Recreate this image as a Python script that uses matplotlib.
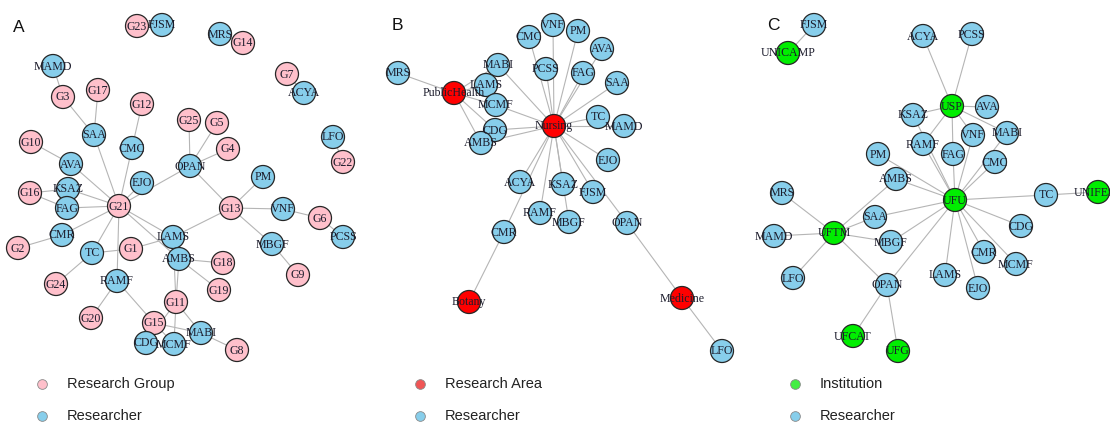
import matplotlib
matplotlib.use("Agg")
import matplotlib.pyplot as plt
from matplotlib.patches import Circle

# ---------------- Network A: research groups x researchers ----------------
groups_a = ["G23", "G14", "G7", "G3", "G17", "G12", "G25", "G5", "G4", "G10",
            "G22", "G16", "G21", "G13", "G6", "G2", "G1", "G18", "G9", "G24",
            "G19", "G11", "G20", "G15", "G8"]
layout_a = {
    "G23": (137, 26), "G14": (243, 43), "G7": (287, 74), "G3": (63, 97),
    "G17": (98, 90), "G12": (142, 104), "G25": (189, 120), "G5": (217, 123),
    "G4": (228, 149), "G10": (31, 142), "G22": (343, 162), "G16": (30, 193),
    "G21": (119, 206), "G13": (231, 208), "G6": (320, 218), "G2": (18, 248),
    "G1": (131, 249), "G18": (223, 263), "G9": (298, 275), "G24": (56, 284),
    "G19": (219, 290), "G11": (176, 302), "G20": (91, 318), "G15": (154, 323),
    "G8": (237, 350),
    "FJSM": (162, 25), "MRS": (220, 34), "MAMD": (53, 66), "ACYA": (304, 93),
    "SAA": (94, 135), "CMC": (132, 148), "OPAN": (190, 166), "AVA": (71, 164),
    "LFO": (333, 137), "PM": (263, 177), "EJO": (142, 183), "KSAZ": (68, 189),
    "FAG": (67, 208), "VNF": (283, 209), "PCSS": (343, 237), "CMR": (62, 235),
    "TC": (92, 253), "LAMS": (173, 237), "AMBS": (179, 259), "MBGF": (272, 244),
    "RAMF": (117, 281), "MABI": (201, 333), "CDG": (146, 343), "MCMF": (174, 344),
}
edges_a = [
    ("G23", "FJSM"), ("G14", "MRS"), ("G7", "ACYA"), ("G22", "LFO"),
    ("G3", "MAMD"), ("G3", "SAA"), ("G17", "SAA"), ("G12", "CMC"),
    ("G10", "AVA"), ("G16", "KSAZ"), ("G16", "FAG"),
    ("G21", "SAA"), ("G21", "CMC"), ("G21", "EJO"), ("G21", "AVA"),
    ("G21", "KSAZ"), ("G21", "FAG"), ("G21", "CMR"), ("G21", "TC"),
    ("G21", "RAMF"), ("G21", "LAMS"), ("G21", "AMBS"), ("G21", "OPAN"),
    ("G25", "OPAN"), ("G5", "OPAN"), ("G4", "OPAN"),
    ("G13", "OPAN"), ("G13", "PM"), ("G13", "VNF"), ("G13", "MBGF"),
    ("G13", "LAMS"), ("G6", "VNF"), ("G6", "PCSS"), ("G9", "MBGF"),
    ("G2", "CMR"), ("G24", "TC"), ("G1", "TC"), ("G1", "LAMS"),
    ("G18", "AMBS"), ("G19", "AMBS"), ("G11", "LAMS"), ("G11", "AMBS"),
    ("G11", "MCMF"), ("G11", "MABI"), ("G11", "CDG"),
    ("G20", "RAMF"), ("G15", "RAMF"), ("G15", "CDG"), ("G15", "MCMF"),
    ("G15", "MABI"), ("G8", "MABI"),
]

# ---------------- Network B: research areas x researchers ----------------
areas_b = ["PublicHealth", "Nursing", "Botany", "Medicine"]
layout_b = {
    "PublicHealth": (454, 93), "Nursing": (554, 126), "Botany": (469, 302),
    "Medicine": (682, 298),
    "MRS": (398, 73), "MABI": (498, 65), "LAMS": (486, 85), "MCMF": (496, 105),
    "CDG": (495, 130), "AMBS": (481, 143), "CMC": (529, 37), "VNF": (553, 25),
    "PM": (578, 31), "AVA": (602, 49), "PCSS": (546, 69), "FAG": (583, 73),
    "SAA": (617, 83), "TC": (598, 117), "MAMD": (624, 126), "EJO": (608, 160),
    "ACYA": (520, 182), "KSAZ": (563, 184), "FJSM": (593, 192),
    "RAMF": (540, 213), "MBGF": (569, 222), "OPAN": (627, 223),
    "CMR": (504, 232), "LFO": (722, 351),
}
nursing_members = ["MABI", "MCMF", "CDG", "AMBS", "CMC", "VNF", "PM", "PCSS",
                   "FAG", "AVA", "SAA", "TC", "MAMD", "EJO", "ACYA", "RAMF",
                   "KSAZ", "MBGF", "FJSM", "OPAN", "CMR"]
public_health_members = ["MRS", "MABI", "LAMS", "MCMF", "CDG", "AMBS"]
edges_b = ([("PublicHealth", r) for r in public_health_members]
           + [("Nursing", r) for r in nursing_members]
           + [("Botany", "CMR"), ("Medicine", "OPAN"), ("Medicine", "LFO")])

# ---------------- Network C: institutions x researchers ----------------
institutions_c = ["UNICAMP", "USP", "UFU", "UFTM", "UNIFESP", "UFCAT", "UFG"]
layout_c = {
    "UNICAMP": (788, 53), "USP": (952, 106), "UFU": (955, 200),
    "UFTM": (834, 233), "UNIFESP": (1098, 192), "UFCAT": (853, 336),
    "UFG": (898, 351),
    "FJSM": (814, 25), "ACYA": (923, 36), "PCSS": (972, 34), "AVA": (987, 107),
    "KSAZ": (913, 115), "VNF": (973, 135), "MABI": (1007, 133),
    "RAMF": (923, 144), "FAG": (953, 154), "PM": (878, 154), "CMC": (995, 162),
    "AMBS": (896, 179), "TC": (1046, 195), "MRS": (782, 193), "SAA": (875, 217),
    "MAMD": (774, 236), "MBGF": (891, 242), "CDG": (1021, 226),
    "CMR": (984, 252), "MCMF": (1016, 264), "LFO": (793, 278),
    "LAMS": (945, 275), "EJO": (978, 288), "OPAN": (887, 285),
}
usp_members = ["ACYA", "PCSS", "KSAZ", "AVA", "MABI", "VNF", "RAMF", "FAG"]
ufu_members = ["RAMF", "FAG", "VNF", "CMC", "MABI", "PM", "AMBS", "KSAZ",
               "SAA", "MBGF", "TC", "CDG", "CMR", "MCMF", "EJO", "LAMS", "OPAN"]
uftm_members = ["MRS", "MAMD", "LFO", "SAA", "MBGF", "AMBS", "OPAN"]
edges_c = ([("UNICAMP", "FJSM")]
           + [("USP", r) for r in usp_members]
           + [("UFU", r) for r in ufu_members]
           + [("UFTM", r) for r in uftm_members]
           + [("UNIFESP", "TC"), ("UFCAT", "OPAN"), ("UFG", "OPAN")])

# ---------------- styling ----------------
PINK = "#FFC0CB"
BLUE = "#87CEEB"
RED = "#FF0000"
GREEN = "#00EE00"
EDGE_COL = "#B5B5B5"
RADIUS = 11.5
LABEL_FONT = ["Liberation Serif", "DejaVu Serif"]

fig = plt.figure(figsize=(11.1, 4.24), dpi=100)
ax = fig.add_axes([0, 0, 1, 1])
ax.set_xlim(0, 1110)
ax.set_ylim(424, 0)
ax.set_aspect("equal")
ax.axis("off")


def draw_network(layout, edges, hubs, hub_color):
    for a, b in edges:
        (x0, y0), (x1, y1) = layout[a], layout[b]
        ax.plot([x0, x1], [y0, y1], color=EDGE_COL, lw=0.8, zorder=1,
                solid_capstyle="round")
    for name, (x, y) in layout.items():
        face = hub_color if name in hubs else BLUE
        ax.add_patch(Circle((x, y), RADIUS, facecolor=face,
                            edgecolor="#262626", lw=0.9, zorder=2))
    for name, (x, y) in layout.items():
        ax.text(x, y + 0.5, name, ha="center", va="center", fontsize=8.6,
                family=LABEL_FONT, color="#1c1c2c", zorder=3)


draw_network(layout_a, edges_a, set(groups_a), PINK)
draw_network(layout_b, edges_b, set(areas_b), RED)
draw_network(layout_c, edges_c, set(institutions_c), GREEN)

# panel letters
for letter, (x, y) in zip(["A", "B", "C"], [(19, 27), (397, 26), (773, 26)]):
    ax.text(x, y, letter, ha="center", va="center", fontsize=12.5,
            family=["Liberation Sans", "DejaVu Sans"], color="#111111")

# legends
legend_rows = [
    (42, "Research Group", PINK),
    (420, "Research Area", "#F05555"),
    (795, "Institution", "#44EE44"),
]
for x, label, col in legend_rows:
    for y, txt, c in [(384, label, col), (416, "Researcher", BLUE)]:
        ax.plot([x], [y], marker="o", markersize=7, markerfacecolor=c,
                markeredgecolor="#8a8a8a", markeredgewidth=0.6, ls="none",
                zorder=2)
        ax.text(x + 25, y, txt, ha="left", va="center", fontsize=10.5,
                family=["Liberation Sans", "DejaVu Sans"], color="#222222")

fig.savefig("out.png", dpi=100, facecolor="white")
